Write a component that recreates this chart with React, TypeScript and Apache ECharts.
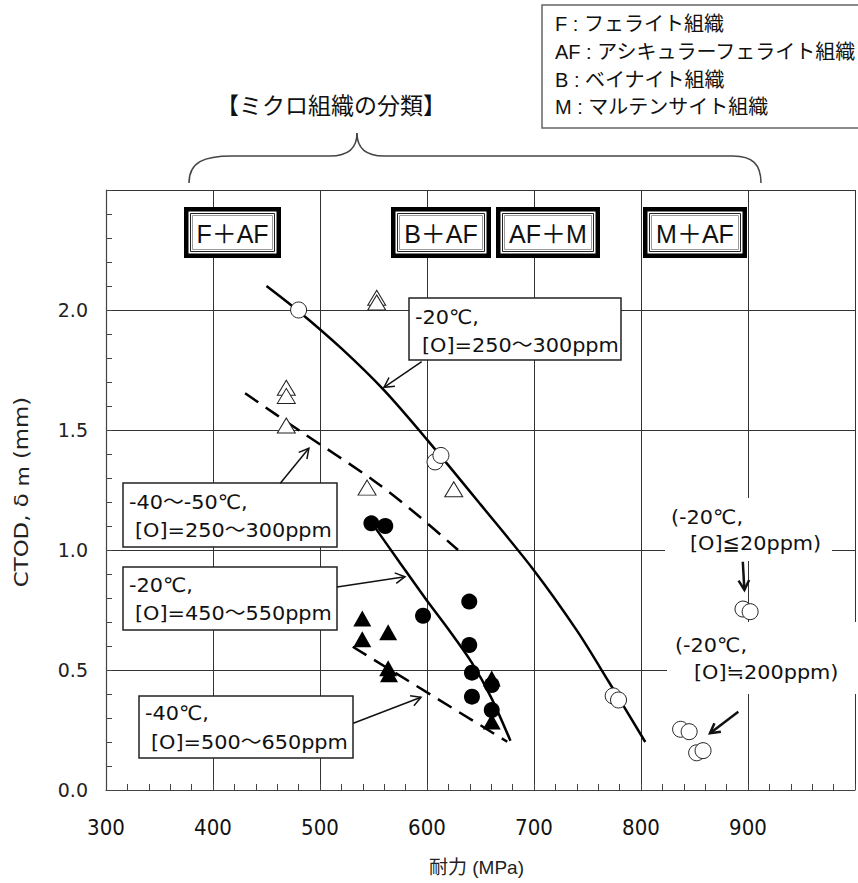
import React, { useEffect, useRef } from "react";
import * as echarts from "echarts";

// ---------------- data ----------------
const xTickLabels = ["300", "400", "500", "600", "700", "800", "900"];
const yTickLabels = ["0.0", "0.5", "1.0", "1.5", "2.0"];

// -20℃, [O]=250～300ppm (open circles)
const openCircles250: number[][] = [[480, 2.0], [607.5, 1.367], [613, 1.394], [774, 0.392], [779, 0.375]];
// -20℃, [O]≦20ppm (open circles)
const openCircles20: number[][] = [[895.3, 0.754], [902, 0.743]];
// -20℃, [O]≒200ppm (open circles)
const openCircles200: number[][] = [[837, 0.253], [845, 0.243], [852, 0.155], [858, 0.164]];
// -40～-50℃, [O]=250～300ppm (open triangles)
const openTriangles: number[][] = [[553, 2.051], [553, 2.031], [468.5, 1.676], [468.5, 1.642], [468.5, 1.519], [544, 1.26], [625, 1.253]];
// -20℃, [O]=450～550ppm (filled circles)
const filledCircles: number[][] = [[548, 1.111], [561, 1.1], [596.3, 0.726], [639.5, 0.785], [639.5, 0.604], [642, 0.489], [642, 0.389], [660.5, 0.4375], [660.5, 0.333]];
// -40℃, [O]=500～650ppm (filled triangles)
const filledTriangles: number[][] = [[539.5, 0.715], [539.5, 0.628], [563.7, 0.657], [563.7, 0.507], [564.5, 0.482], [660.5, 0.465], [660.5, 0.285]];

// trend curves
const curve20_250: number[][] = [[450, 2.1], [480, 1.995], [520, 1.84], [560, 1.665], [600, 1.46], [650, 1.19], [700, 0.915], [740, 0.665], [770, 0.45], [804, 0.2]];
const curve40_250: number[][] = [[430, 1.653], [480, 1.5], [550, 1.29], [590, 1.15], [629, 1.0]];
const curve20_450: number[][] = [[552, 1.09], [575, 0.945], [599, 0.795], [620, 0.67], [642, 0.53], [660, 0.385], [678, 0.205]];
const curve40_500: number[][] = [[530.6, 0.597], [675, 0.201]];

const legendLines = ["F : フェライト組織", "AF : アシキュラーフェライト組織", "B : ベイナイト組織", "M : マルテンサイト組織"];
const structureLabels = ["F＋AF", "B＋AF", "AF＋M", "M＋AF"];

const LATIN = "'Liberation Sans', 'Noto Sans CJK JP', sans-serif";
const WIDE = "'DejaVu Sans', 'Noto Sans CJK JP', sans-serif";
const CJK = "'Noto Sans CJK JP', sans-serif";

function arrow(x1: number, y1: number, x2: number, y2: number, w: number, head: number) {
  const ang = Math.atan2(y2 - y1, x2 - x1);
  const a1 = ang + Math.PI * 0.84;
  const a2 = ang - Math.PI * 0.84;
  return {
    type: "group",
    z: 120,
    children: [
      { type: "line", z: 120, shape: { x1, y1, x2, y2 }, style: { stroke: "#111", lineWidth: w } },
      {
        type: "polyline",
        z: 120,
        shape: {
          points: [
            [x2 + head * Math.cos(a1), y2 + head * Math.sin(a1)],
            [x2, y2],
            [x2 + head * Math.cos(a2), y2 + head * Math.sin(a2)],
          ],
        },
        style: { stroke: "#111", lineWidth: w, fill: null },
      },
    ],
  };
}

function txt(text: string, x: number, y: number, size: number, family: string, align = "left", scaleX = 1) {
  return {
    type: "text",
    z: 130,
    x,
    y,
    scaleX,
    style: { text, fontSize: size, fontFamily: family, fill: "#111", align, verticalAlign: "middle" },
  };
}

function noteBox(x: number, y: number, w: number, h: number, l1: string, l1x: number, l1y: number, l2: string, l2x: number, l2y: number) {
  return [
    { type: "rect", z: 110, shape: { x, y, width: w, height: h }, style: { fill: "#fff", stroke: "#222", lineWidth: 1.5 } },
    txt(l1, l1x, l1y, 20, WIDE, "left", 1.04),
    txt(l2, l2x, l2y, 20, WIDE, "left", 1.04),
  ];
}

function frameBox(x: number, y: number, w: number, h: number, label: string) {
  return [
    { type: "rect", z: 110, shape: { x, y, width: w, height: h }, style: { fill: "#000" } },
    { type: "rect", z: 111, shape: { x: x + 4.5, y: y + 4.5, width: w - 9, height: h - 9 }, style: { fill: "#fff" } },
    { type: "rect", z: 112, shape: { x: x + 6.5, y: y + 6.5, width: w - 13, height: h - 13 }, style: { fill: null, stroke: "#222", lineWidth: 1 } },
    { type: "rect", z: 112, shape: { x: x + 8.5, y: y + 8.5, width: w - 17, height: h - 17 }, style: { fill: null, stroke: "#999", lineWidth: 1 } },
    txt(label, x + w / 2, y + h / 2 + 1, 25, LATIN, "center"),
  ];
}

export default function App() {
  const ref = useRef<HTMLDivElement>(null);

  useEffect(() => {
    if (!ref.current) return;
    const chart = echarts.init(ref.current, undefined, { renderer: "svg" });

    const axisColor = "#444";
    const gridColor = "#333";

    const graphics: any[] = [];
    // legend box
    graphics.push({ type: "rect", z: 110, shape: { x: 542, y: 5, width: 330, height: 123 }, style: { fill: "#fff", stroke: "#666", lineWidth: 1.5 } });
    const legendY = [24, 52, 80, 107];
    legendLines.forEach((t, i) => graphics.push(txt(t, 555, legendY[i], 20, LATIN)));
    // title
    graphics.push(txt("【ミクロ組織の分類】", 216, 104, 23, CJK));
    // brace
    const braceStyle = { stroke: "#444", lineWidth: 1.5, fill: null };
    graphics.push({ type: "bezierCurve", z: 110, shape: { x1: 189, y1: 183, cpx1: 189, cpy1: 162, cpx2: 204, cpy2: 156, x2: 232, y2: 156 }, style: braceStyle });
    graphics.push({ type: "line", z: 110, shape: { x1: 232, y1: 156, x2: 330, y2: 156 }, style: braceStyle });
    graphics.push({ type: "bezierCurve", z: 110, shape: { x1: 330, y1: 156, cpx1: 350, cpy1: 156, cpx2: 357, cpy2: 146, x2: 357, y2: 133 }, style: braceStyle });
    graphics.push({ type: "bezierCurve", z: 110, shape: { x1: 357, y1: 133, cpx1: 357, cpy1: 146, cpx2: 364, cpy2: 156, x2: 384, y2: 156 }, style: braceStyle });
    graphics.push({ type: "line", z: 110, shape: { x1: 384, y1: 156, x2: 733, y2: 156 }, style: braceStyle });
    graphics.push({ type: "bezierCurve", z: 110, shape: { x1: 733, y1: 156, cpx1: 752, cpy1: 156, cpx2: 761, cpy2: 164, x2: 761, y2: 183 }, style: braceStyle });
    // structure frame boxes
    const frames = [[184, 207, 97, 51], [391, 207, 100, 51], [496, 207, 104, 51], [643, 207, 104, 51]];
    frames.forEach((f, i) => graphics.push(...frameBox(f[0], f[1], f[2], f[3], structureLabels[i])));
    // annotation boxes
    graphics.push(...noteBox(409, 298, 212, 62, "-20℃,", 415, 317, "[O]=250～300ppm", 422, 345));
    graphics.push(...noteBox(123, 483, 214, 64, "-40～-50℃,", 129, 502, "[O]=250～300ppm", 135, 530));
    graphics.push(...noteBox(123, 567, 214, 63, "-20℃,", 129, 585, "[O]=450～550ppm", 135, 613));
    graphics.push(...noteBox(139, 696, 214, 62, "-40℃,", 145, 713, "[O]=500～650ppm", 151, 742));
    // free notes with white background
    graphics.push({ type: "rect", z: 105, shape: { x: 665, y: 498, width: 167, height: 63 }, style: { fill: "#fff" } });
    graphics.push(txt("(-20℃,", 671, 517, 20, WIDE, "left", 1.04));
    graphics.push(txt("[O]≦20ppm)", 690, 543, 20, WIDE, "left", 1.04));
    graphics.push({ type: "rect", z: 105, shape: { x: 667, y: 622, width: 191, height: 72 }, style: { fill: "#fff" } });
    graphics.push(txt("(-20℃,", 675, 645, 20, WIDE, "left", 1.04));
    graphics.push(txt("[O]≒200ppm)", 694, 672, 20, WIDE, "left", 1.04));
    // arrows
    graphics.push(arrow(421.7, 361.7, 384, 387.3, 1.5, 11));
    graphics.push(arrow(280.3, 483.3, 308.9, 448.3, 1.5, 11));
    graphics.push(arrow(337, 587, 405, 576.7, 1.5, 11));
    graphics.push(arrow(353.3, 723.3, 421, 697.3, 1.5, 11));
    graphics.push(arrow(742.8, 561.7, 744.4, 590, 2.5, 11));
    graphics.push(arrow(738.3, 711.7, 710, 733.3, 2.5, 11));
    // y-axis title (stretched along its length like the original)
    graphics.push({
      type: "text",
      z: 130,
      x: 22,
      y: 492,
      rotation: Math.PI / 2,
      scaleX: 1.2,
      style: {
        text: "CTOD, δ {s|m} (mm)",
        fontSize: 19,
        fontFamily: WIDE,
        fill: "#222",
        align: "center",
        verticalAlign: "middle",
        rich: { s: { fontSize: 17, fontFamily: WIDE, fill: "#222", padding: [3, 0, 0, 0] } },
      },
    });

    const lineSeries = (data: number[][], dashed: boolean, smooth: number) => ({
      type: "line",
      data,
      showSymbol: false,
      symbol: "none",
      smooth,
      z: 3,
      lineStyle: { color: "#000", width: 2.5, type: dashed ? [16, 9] : "solid" },
      silent: true,
    });
    const scatter = (data: number[][], symbol: string, size: any, fill: string) => ({
      type: "scatter",
      data,
      symbol,
      symbolSize: size,
      z: 5,
      itemStyle: { color: fill, borderColor: "#222", borderWidth: fill === "#fff" ? 1 : 0, opacity: 1 },
      silent: true,
    });

    chart.setOption({
      animation: false,
      backgroundColor: "#fff",
      grid: { left: 106, top: 190, right: 0, bottom: 93, containLabel: false },
      xAxis: {
        type: "value",
        min: 300,
        max: 1000,
        interval: 100,
        axisLine: { show: true, onZero: false, lineStyle: { color: axisColor, width: 1.2 } },
        axisTick: { show: true, inside: true, length: 6, lineStyle: { color: axisColor } },
        minorTick: { show: true, splitNumber: 5, length: 6, lineStyle: { color: axisColor } },
        axisLabel: {
          formatter: (v: number) => (xTickLabels.includes(String(Math.round(v))) ? String(Math.round(v)) : ""),
          margin: 26,
          fontSize: 22,
          color: "#111",
          fontFamily: "'Liberation Sans Narrow', 'DejaVu Sans Condensed', 'Liberation Sans', sans-serif",
        },
        splitLine: { show: true, lineStyle: { color: gridColor, width: 1 } },
        name: "耐力 (MPa)",
        nameLocation: "middle",
        nameGap: 68,
        nameTextStyle: { fontSize: 19, color: "#222", fontFamily: LATIN, padding: [0, 8, 0, 0] },
      },
      yAxis: {
        type: "value",
        min: 0,
        max: 2.5,
        interval: 0.5,
        axisLine: { show: true, onZero: false, lineStyle: { color: axisColor, width: 1.2 } },
        axisTick: { show: true, inside: true, length: 6, lineStyle: { color: axisColor } },
        minorTick: { show: true, splitNumber: 5, length: 6, lineStyle: { color: axisColor } },
        axisLabel: {
          formatter: (v: number) => yTickLabels.find((l) => Math.abs(parseFloat(l) - v) < 1e-6) ?? "",
          margin: 18,
          fontSize: 19,
          color: "#222",
          fontFamily: WIDE,
        },
        splitLine: { show: true, lineStyle: { color: gridColor, width: 1 } },
      },
      series: [
        lineSeries(curve20_250, false, 0.3),
        lineSeries(curve40_250, true, 0.3),
        lineSeries(curve20_450, false, 0.3),
        lineSeries(curve40_500, true, 0),
        scatter(openCircles250, "circle", 16, "#fff"),
        scatter(openCircles20, "circle", 16, "#fff"),
        scatter(openCircles200, "circle", 16, "#fff"),
        scatter(openTriangles, "triangle", [18, 15], "#fff"),
        scatter(filledCircles, "circle", 16, "#000"),
        scatter(filledTriangles, "triangle", [18, 16], "#000"),
      ],
      graphic: graphics,
    });

    return () => chart.dispose();
  }, []);

  return <div ref={ref} style={{ position: "absolute", left: 0, top: 0, width: 858, height: 883 }} />;
}
